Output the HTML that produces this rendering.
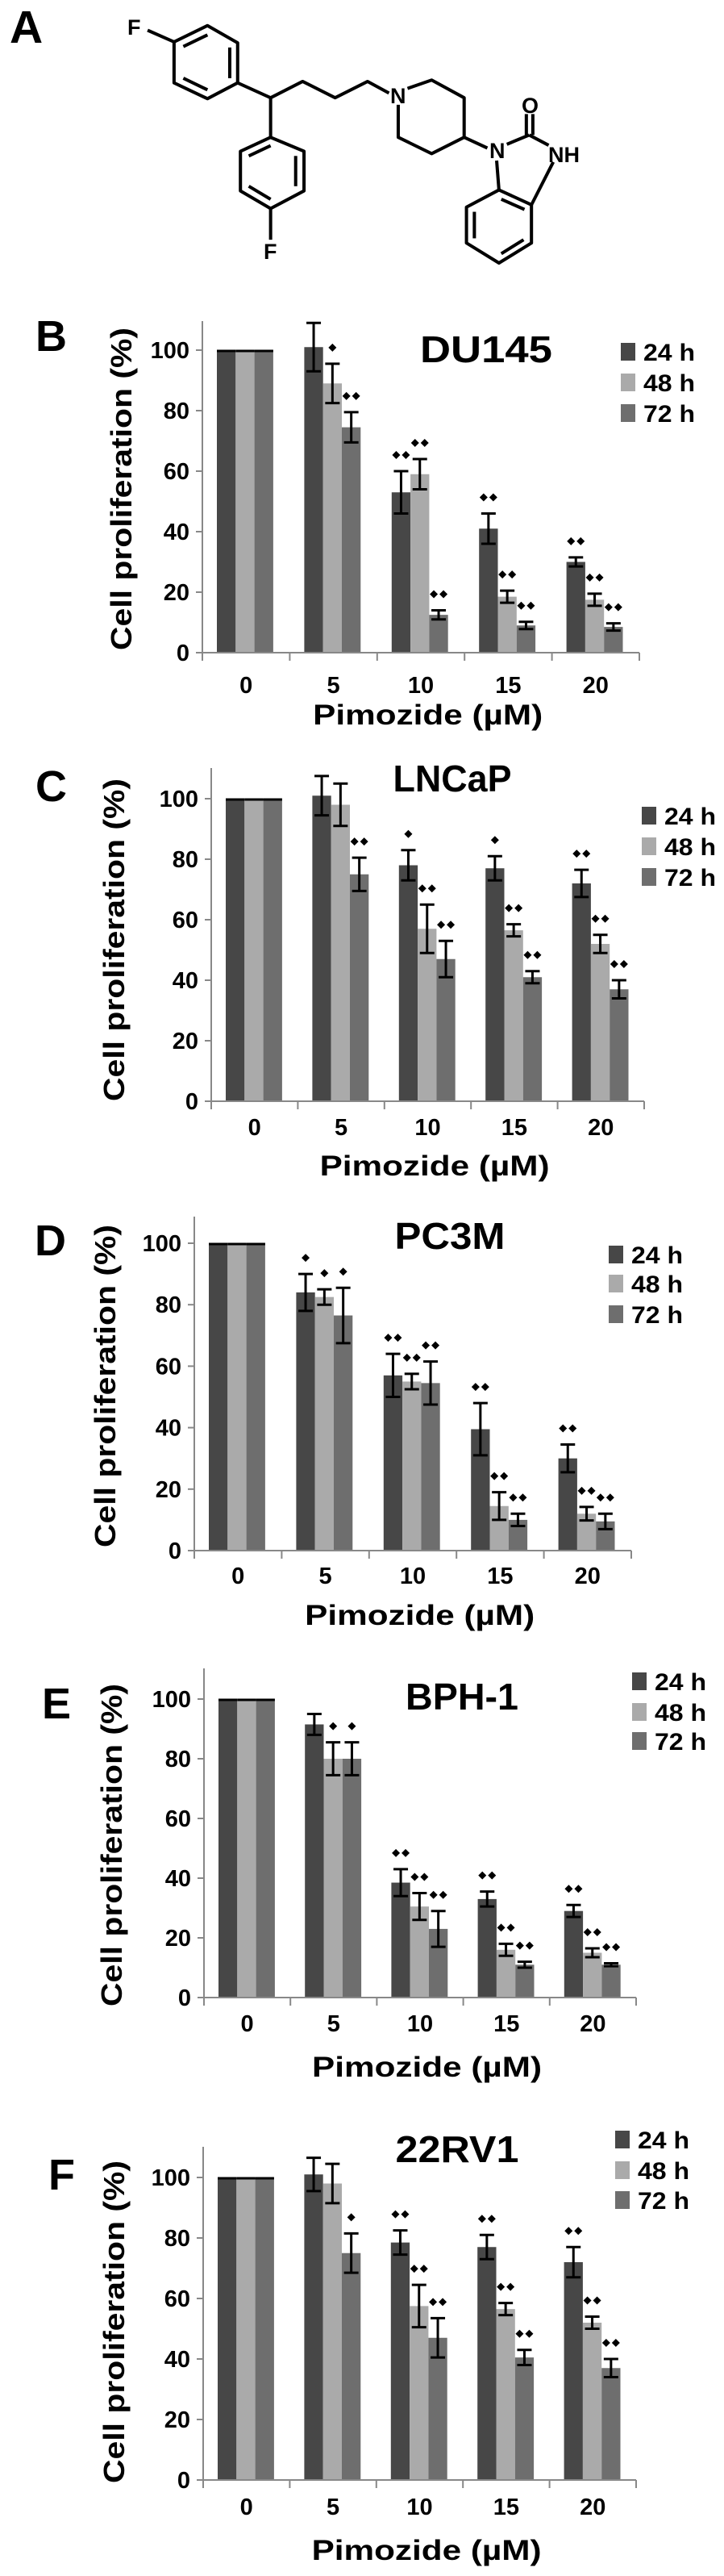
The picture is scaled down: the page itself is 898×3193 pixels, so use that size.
<!DOCTYPE html>
<html><head><meta charset="utf-8">
<style>
html,body{margin:0;padding:0;background:#fff;}
svg{display:block;font-family:"Liberation Sans",sans-serif;font-weight:bold;}
</style></head>
<body>
<svg id="fig" width="898" height="3193" viewBox="0 0 898 3193" xmlns="http://www.w3.org/2000/svg">
<rect width="898" height="3193" fill="#fff"/>
<text x="12" y="53" font-size="57">A</text>
<g transform="scale(0.5757,0.577)" fill="none" stroke="#000" stroke-width="7" stroke-linejoin="round">
  <polygon points="375,90 447,55 512,92 512,178 447,212 375,178"/>
  <line x1="395" y1="100" x2="447" y2="75"/><line x1="495" y1="102" x2="495" y2="168"/><line x1="395" y1="168" x2="447" y2="193"/>
  <line x1="318" y1="65" x2="375" y2="90"/>
  <line x1="512" y1="178" x2="583" y2="210"/>
  <line x1="583" y1="210" x2="583" y2="295"/>
  <polygon points="583,295 655,325 655,410 583,448 518,410 518,325"/>
  <line x1="536" y1="335" x2="583" y2="313"/><line x1="637" y1="335" x2="637" y2="400"/><line x1="536" y1="400" x2="583" y2="428"/>
  <line x1="583" y1="448" x2="583" y2="515"/>
  <polyline points="583,210 652,175 722,210 792,175 838,200"/>
  <polyline points="878,190 930,172 1000,210 1000,295 930,330 858,295 858,225"/>
  <line x1="1000" y1="295" x2="1050" y2="318"/>
  <line x1="1092" y1="310" x2="1140" y2="290"/>
  <line x1="1134" y1="290" x2="1134" y2="245"/><line x1="1148" y1="290" x2="1148" y2="245"/>
  <line x1="1140" y1="290" x2="1182" y2="312"/>
  <line x1="1192" y1="348" x2="1145" y2="440"/>
  <line x1="1070" y1="345" x2="1075" y2="408"/>
  <polygon points="1075,408 1145,440 1145,522 1075,565 1005,522 1005,445"/>
  <line x1="1080" y1="428" x2="1130" y2="450"/><line x1="1022" y1="455" x2="1022" y2="512"/><line x1="1080" y1="545" x2="1128" y2="515"/>
</g>
<g font-size="27" fill="#000">
  <text x="158" y="43">F</text>
  <text x="327" y="321">F</text>
  <text x="484" y="128">N</text>
  <text x="647" y="140">O</text>
  <text x="607" y="196">N</text>
  <text x="680" y="201">NH</text>
</g>
<g id="charts"></g>
</svg>
<script>
const categories = ["0","5","10","15","20"];
const yTicks = [0,20,40,60,80,100];
const seriesNames = ["24 h","48 h","72 h"];

const du145_24 = [100,101,53,41,30];
const du145_48 = [100,89,59,18.5,17.5];
const du145_72 = [100,74.5,12.5,9,8.5];
const du145_e24 = [0,8,7,5,1.5];
const du145_e48 = [0,6.5,5,2,2];
const du145_e72 = [0,5,1.5,1.2,1.2];
const du145_s24 = ["","","**","**","**"];
const du145_s48 = ["","*","**","**","**"];
const du145_s72 = ["","**","**","**","**"];

const lncap_24 = [100,101,78,77,72];
const lncap_48 = [100,98,57,56.5,52];
const lncap_72 = [100,75,47,41,37];
const lncap_e24 = [0,6.5,5,4,4.5];
const lncap_e48 = [0,7,8,2,3];
const lncap_e72 = [0,5.5,6,2,3];
const lncap_s24 = ["","","*","*","**"];
const lncap_s48 = ["","","**","**","**"];
const lncap_s72 = ["","**","**","**","**"];

const pc3m_24 = [100,84,57,39.5,30];
const pc3m_48 = [100,82.5,55,14.5,12];
const pc3m_72 = [100,76.5,54.5,10,9.5];
const pc3m_e24 = [0,6,7,8.5,4.5];
const pc3m_e48 = [0,2.5,2.5,4.5,2.2];
const pc3m_e72 = [0,9,7,2,2.5];
const pc3m_s24 = ["","*","**","**","**"];
const pc3m_s48 = ["","*","**","**","**"];
const pc3m_s72 = ["","*","**","**","**"];

const bph1_24 = [100,91.5,38.5,33,29];
const bph1_48 = [100,80,30.5,16,15];
const bph1_72 = [100,80,23,11,11];
const bph1_e24 = [0,3.5,4.5,2.5,2];
const bph1_e48 = [0,5.5,4.5,2,1.5];
const bph1_e72 = [0,5.5,6,1,0.5];
const bph1_s24 = ["","","**","**","**"];
const bph1_s48 = ["","*","**","**","**"];
const bph1_s72 = ["","*","**","**","**"];

const rv1_24 = [100,101,78.5,77,72];
const rv1_48 = [100,98,57.5,56.5,52];
const rv1_72 = [100,75,47,40.5,37];
const rv1_e24 = [0,5.5,4,4,5];
const rv1_e48 = [0,6.5,7,2,2];
const rv1_e72 = [0,6.5,6.5,2.5,3];
const rv1_s24 = ["","","**","**","**"];
const rv1_s48 = ["","","**","**","**"];
const rv1_s72 = ["","*","**","**","**"];

const colors = ["#474747","#aaaaaa","#6e6e6e"];
const NS = "http://www.w3.org/2000/svg";
const root = document.getElementById("charts");

function mk(tag, attrs, parent){
  const el = document.createElementNS(NS, tag);
  for (const k in attrs) el.setAttribute(k, attrs[k]);
  parent.appendChild(el);
  return el;
}

function drawPanel(cfg){
  const g = mk("g", {}, root);
  
  
  const yScale = v => cfg.y0 + (cfg.y100 - cfg.y0) * v / 100;
  const gw = (cfg.x1 - cfg.ax) / categories.length;
  const bw = 23.3;
  const bandX = (i, s) => cfg.ax + i * gw + 18 + s * bw;

  const lt = mk("text", {x: cfg.lx, y: cfg.ly + 19, "font-size": 54}, g);
  lt.textContent = cfg.letter;
  
  

  cfg.series.forEach((vals, s) => {
    vals.forEach((v, i) => {
      const x = bandX(i, s);
      const y = yScale(v);
      const r = mk("rect", {x: x, y: y, width: bw, height: yScale(0) - y, fill: colors[s]}, g);
      
      
      const e = cfg.errs[s][i];
      const cx = x + bw / 2;
      if (e > 0) {
        const eg = mk("g", {stroke: "#000", "stroke-width": 3}, g);
        
        
        mk("line", {x1: cx, x2: cx, y1: yScale(v + e), y2: yScale(v - e)}, eg);
        mk("line", {x1: cx - 9, x2: cx + 9, y1: yScale(v + e), y2: yScale(v + e)}, eg);
        mk("line", {x1: cx - 9, x2: cx + 9, y1: yScale(v - e), y2: yScale(v - e)}, eg);
      } else {
        const cap = mk("line", {x1: x, x2: x + bw, y1: y + 1, y2: y + 1, stroke: "#000", "stroke-width": 3}, g);
        
        
      }
      const st = cfg.stars[s][i];
      if (st) {
        const sy = yScale(v + e) - 20;
        const sg = mk("g", {fill: "#000"}, g);
        
        
        const n = st.length;
        for (let k = 0; k < n; k++) {
          const dx = cx + (k - (n - 1) / 2) * 12;
          mk("polygon", {points: (dx-5)+","+sy+" "+dx+","+(sy-5)+" "+(dx+5)+","+sy+" "+dx+","+(sy+5)}, sg);
        }
      }
    });
  });

  const ya = mk("line", {x1: cfg.ax, x2: cfg.ax, y1: cfg.top, y2: yScale(0), stroke: "#888", "stroke-width": 2}, g);
  
  
  const xa = mk("line", {x1: cfg.ax, x2: cfg.x1, y1: yScale(0), y2: yScale(0), stroke: "#888", "stroke-width": 2}, g);
  
  
  yTicks.forEach(t => {
    const y = yScale(t);
    mk("line", {x1: cfg.ax - 8, x2: cfg.ax, y1: y, y2: y, stroke: "#888", "stroke-width": 2}, g);
    const tx = mk("text", {x: cfg.ax - 16, y: y + 10, "font-size": 29, "text-anchor": "end"}, g);
    tx.textContent = t;
    
    
  });
  for (let i = 0; i <= categories.length; i++) {
    const x = cfg.ax + i * gw;
    mk("line", {x1: x, x2: x, y1: yScale(0), y2: yScale(0) + 10, stroke: "#888", "stroke-width": 2}, g);
  }
  categories.forEach((c, i) => {
    const tx = mk("text", {x: cfg.ax + (i + 0.5) * gw, y: cfg.tly + 10, "font-size": 29, "text-anchor": "middle"}, g);
    tx.textContent = c;
    
    
  });
  const xt = mk("text", {x: cfg.ax + 2.58 * gw, y: cfg.xty + 12, "font-size": 35, "text-anchor": "middle", textLength: 285, lengthAdjust: "spacingAndGlyphs"}, g);
  xt.textContent = "Pimozide (µM)";
  
  
  const yt = mk("text", {x: 0, y: 0, "font-size": 36, "text-anchor": "middle", textLength: 400, lengthAdjust: "spacingAndGlyphs", transform: "translate(" + (cfg.ytx + 13) + "," + cfg.yty + ") rotate(-90)"}, g);
  yt.textContent = "Cell proliferation (%)";
  
  
  const tt = mk("text", {x: cfg.tx, y: cfg.ty + 16, "font-size": 46, "text-anchor": "middle", textLength: cfg.tw, lengthAdjust: "spacingAndGlyphs"}, g);
  tt.textContent = cfg.title;
  
  

  seriesNames.forEach((n, s) => {
    const lg = mk("g", {}, g);
    
    
    const ry = cfg.lrows[s];
    mk("rect", {x: cfg.lsx, y: ry - 11, width: 18, height: 22, fill: colors[s]}, lg);
    const t = mk("text", {x: cfg.lsx + 28, y: ry + 11, "font-size": 30, textLength: 64, lengthAdjust: "spacingAndGlyphs"}, lg);
    t.textContent = n;
  });
}

drawPanel({id:"du145", letter:"B", title:"DU145", tw:164, ax:251, x1:793, y0:809, y100:434, top:398, tly:849, xty:886, lx:44, ly:416, tx:603, ty:433, ytx:150, yty:606, lsx:770, lrows:[436,474,512],
  series:[du145_24,du145_48,du145_72], errs:[du145_e24,du145_e48,du145_e72], stars:[du145_s24,du145_s48,du145_s72]});
drawPanel({id:"lncap", letter:"C", title:"LNCaP", tw:147, ax:262, x1:799, y0:1365, y100:990, top:952, tly:1397, xty:1445, lx:44, ly:974, tx:561, ty:965, ytx:141, yty:1165, lsx:796, lrows:[1011,1049,1087],
  series:[lncap_24,lncap_48,lncap_72], errs:[lncap_e24,lncap_e48,lncap_e72], stars:[lncap_s24,lncap_s48,lncap_s72]});
drawPanel({id:"pc3m", letter:"D", title:"PC3M", tw:137, ax:241, x1:783, y0:1922, y100:1541, top:1508, tly:1953, xty:2002, lx:43, ly:1537, tx:558, ty:1532, ytx:130, yty:1718, lsx:755, lrows:[1555,1591,1629],
  series:[pc3m_24,pc3m_48,pc3m_72], errs:[pc3m_e24,pc3m_e48,pc3m_e72], stars:[pc3m_s24,pc3m_s48,pc3m_s72]});
drawPanel({id:"bph1", letter:"E", title:"BPH-1", tw:140, ax:253, x1:789, y0:2476, y100:2106, top:2068, tly:2508, xty:2562, lx:52, ly:2111, tx:573, ty:2103, ytx:138, yty:2287, lsx:784, lrows:[2084,2122,2158],
  series:[bph1_24,bph1_48,bph1_72], errs:[bph1_e24,bph1_e48,bph1_e72], stars:[bph1_s24,bph1_s48,bph1_s72]});
drawPanel({id:"22rv1", letter:"F", title:"22RV1", tw:153, ax:252, x1:789, y0:3074, y100:2699, top:2661, tly:3107, xty:3161, lx:60, ly:2695, tx:567, ty:2664, ytx:141, yty:2878, lsx:763, lrows:[2652,2690,2727],
  series:[rv1_24,rv1_48,rv1_72], errs:[rv1_e24,rv1_e48,rv1_e72], stars:[rv1_s24,rv1_s48,rv1_s72]});
</script>
</body></html>
